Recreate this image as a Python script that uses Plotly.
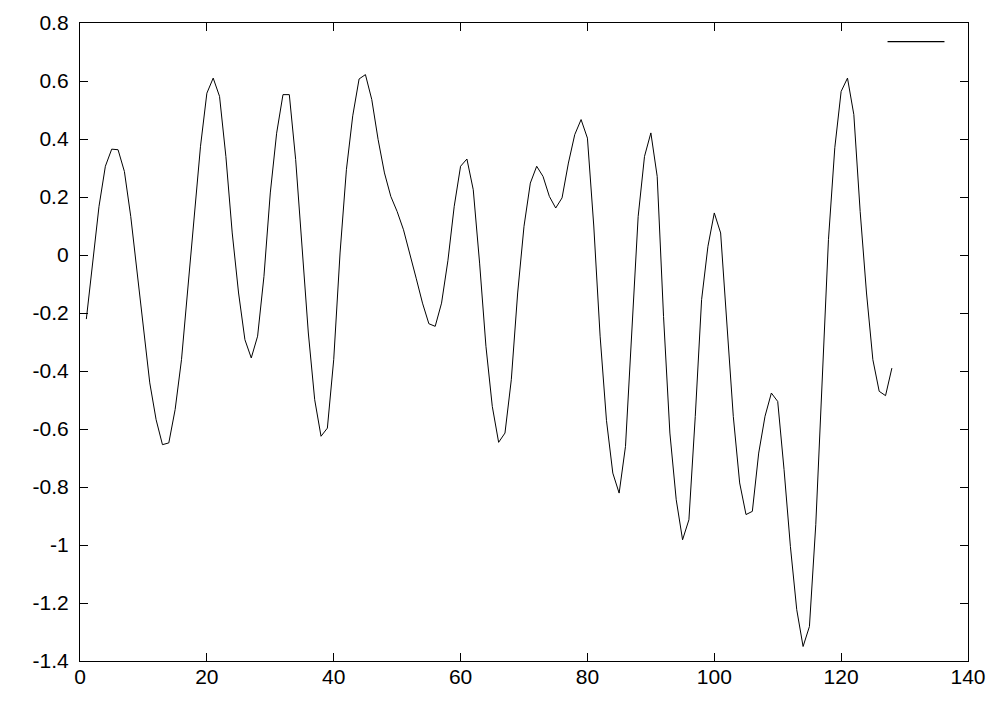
import plotly.graph_objects as go

x_values = list(range(1, 129))
y_values = [
    -0.221, -0.020, 0.168, 0.306, 0.365, 0.363, 0.288, 0.133, -0.062, -0.269,
    -0.441, -0.568, -0.654, -0.648, -0.533, -0.361, -0.108, 0.133, 0.375, 0.558,
    0.610, 0.547, 0.340, 0.076, -0.131, -0.292, -0.355, -0.280, -0.074, 0.214,
    0.420, 0.553, 0.553, 0.329, 0.030, -0.269, -0.499, -0.625, -0.597, -0.361,
    0.007, 0.294, 0.480, 0.607, 0.622, 0.536, 0.398, 0.283, 0.202, 0.150,
    0.087, 0.007, -0.080, -0.166, -0.237, -0.246, -0.166, -0.020, 0.168, 0.306,
    0.331, 0.225, -0.028, -0.315, -0.522, -0.646, -0.614, -0.430, -0.131, 0.099,
    0.248, 0.306, 0.271, 0.202, 0.162, 0.197, 0.317, 0.415, 0.467, 0.403,
    0.100, -0.280, -0.570, -0.752, -0.821, -0.660, -0.269, 0.133, 0.340, 0.421,
    0.271, -0.212, -0.614, -0.844, -0.982, -0.913, -0.557, -0.154, 0.030, 0.145,
    0.076, -0.246, -0.557, -0.786, -0.895, -0.884, -0.683, -0.556, -0.476, -0.505,
    -0.740, -1.005, -1.223, -1.350, -1.281, -0.930, -0.430, 0.053, 0.370, 0.564,
    0.610, 0.484, 0.150, -0.131, -0.361, -0.470, -0.485, -0.390,
]

x_tick_vals = [0, 20, 40, 60, 80, 100, 120, 140]
x_tick_text = ["0", "20", "40", "60", "80", "100", "120", "140"]
y_tick_vals = [0.8, 0.6, 0.4, 0.2, 0, -0.2, -0.4, -0.6, -0.8, -1, -1.2, -1.4]
y_tick_text = ["0.8", "0.6", "0.4", "0.2", "0", "-0.2", "-0.4", "-0.6", "-0.8", "-1", "-1.2", "-1.4"]

fig = go.Figure()
fig.add_trace(go.Scatter(
    x=x_values, y=y_values, mode="lines",
    line=dict(color="black", width=1),
    showlegend=False,
))

# legend key (empty title), gnuplot style
fig.add_shape(type="line", xref="paper", yref="paper",
              x0=0.9094, x1=0.9735, y0=0.9707, y1=0.9707,
              line=dict(color="black", width=1.3))

axis_common = dict(
    showgrid=False, zeroline=False, showline=True, linecolor="black", linewidth=1.3,
    mirror="ticks", ticks="inside", ticklen=8, tickcolor="black", tickwidth=1.3,
    automargin=False,
    tickfont=dict(family="Liberation Sans, Arial, sans-serif", size=21, color="black"),
)

fig.update_layout(
    width=993, height=693,
    margin=dict(l=72, r=33, t=15, b=40),
    paper_bgcolor="white", plot_bgcolor="white",
    xaxis=dict(range=[0, 140], tickvals=x_tick_vals, ticktext=x_tick_text,
               ticklabelstandoff=-3, **axis_common),
    yaxis=dict(range=[-1.4, 0.8], tickvals=y_tick_vals, ticktext=y_tick_text,
               ticklabelstandoff=6, **axis_common),
)

fig.write_html("out.html")
